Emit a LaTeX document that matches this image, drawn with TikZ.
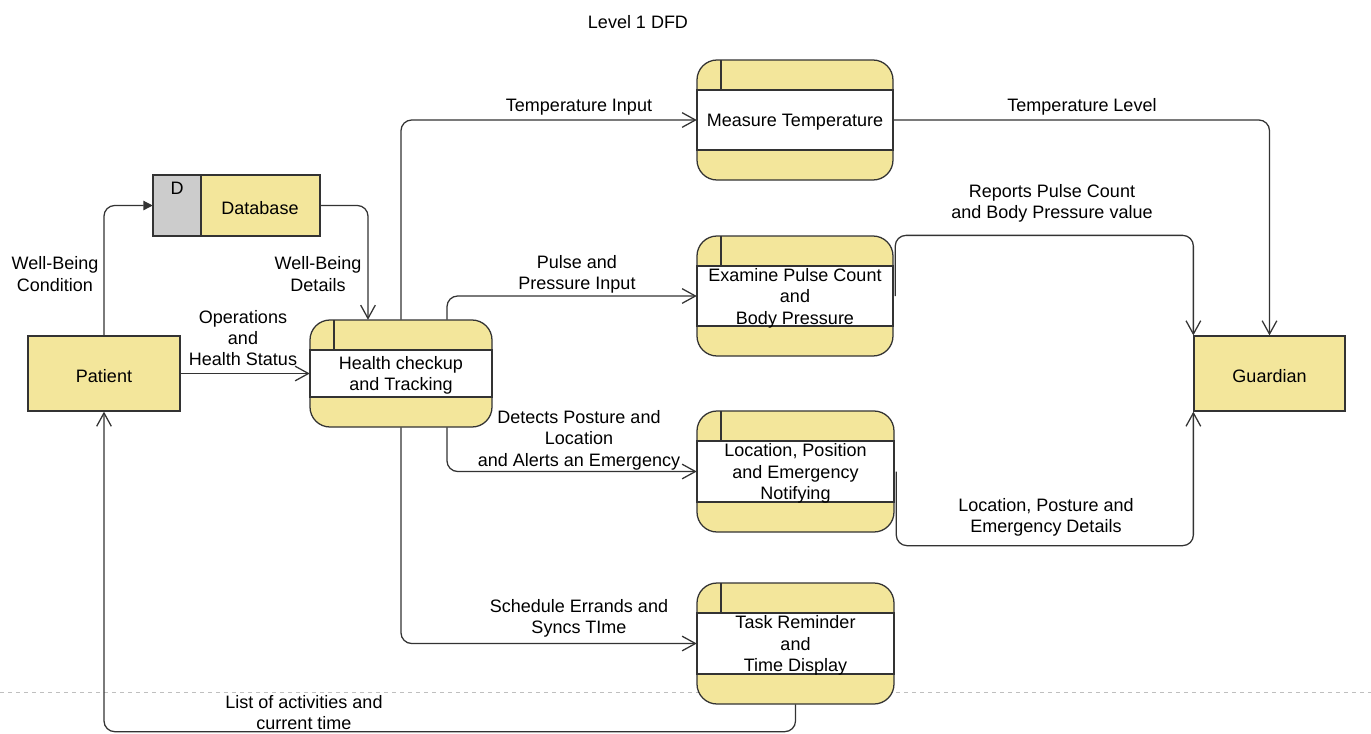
\documentclass[tikz,border=0pt]{standalone}
\usepackage{fontspec}
\setmainfont{Liberation Sans}
\usetikzlibrary{arrows.meta,calc,fit}
\definecolor{procfill}{HTML}{F3E69B}
\definecolor{storegray}{HTML}{CCCCCC}
\definecolor{linec}{HTML}{333333}
\tikzset{
  every node/.style={font=\fontsize{13.5}{16}\selectfont, text=black},
  lbl/.style={align=center, inner sep=0pt, yshift=-1.6pt},
  anchorbox/.style={inner sep=0pt, draw=none},
  edge/.style={draw=linec, line width=0.95pt, rounded corners=8},
  openarr/.style={-{Straight Barb[length=10pt,width=11pt,line width=0.95pt]}},
  fillarr/.style={-{Triangle[length=7pt,width=7pt]}},
  entity/.style={draw=linec, line width=0.95pt, fill=procfill, inner sep=0pt},
}
% process box: name, left, top, right, bottom, text
\newcommand\dfdprocess[6]{%
  \path[draw=linec, line width=0.95pt, fill=procfill, rounded corners=15] (#2,#3) rectangle (#4,#5);
  \path[draw=linec, line width=0.95pt, fill=white] (#2,#3+30) rectangle (#4,#5-30);
  \draw[linec, line width=0.95pt] (#2+24,#3) -- (#2+24,#3+30);
  \coordinate (#1-nw) at (#2,#3);
  \coordinate (#1-se) at (#4,#5);
  \node[anchorbox, fit=(#1-nw)(#1-se)] (#1) {};
  \node[lbl] (#1-text) at (#1.center) {#6};
}
\begin{document}
\begin{tikzpicture}[x=0.75pt,y=-0.75pt]
\useasboundingbox (0,0) rectangle (1371,733);

% page break guide
\draw[black!25, line width=0.6pt, dash pattern=on 3pt off 3pt] (0,692) -- (1371,692);

\node[lbl] (title) at (638,20) {Level 1 DFD};

% external entities
\node[entity, minimum width=114pt, minimum height=56.25pt] (pat) at (104,373.5) {};
\node[lbl] (pat-text) at (pat.center) {Patient};
\node[entity, minimum width=113.25pt, minimum height=56.25pt] (gd) at (1269.5,373.5) {};
\node[lbl] (gd-text) at (gd.center) {Guardian};

% data store
\path[draw=linec, line width=0.95pt, fill=procfill] (153,175) rectangle (320,236);
\path[draw=linec, line width=0.95pt, fill=storegray] (153,175) rectangle (201,236);
\coordinate (db-nw) at (153,175);
\coordinate (db-se) at (320,236);
\node[anchorbox, fit=(db-nw)(db-se)] (db) {};
\node[lbl] (db-id) at (177,186) {D};
\node[lbl] (db-text) at (260,205.5) {Database};

% processes
\dfdprocess{hc}{310}{320}{492}{427}{Health checkup\\and Tracking}
\dfdprocess{mt}{697}{60}{893}{180}{Measure Temperature}
\dfdprocess{ep}{697}{236}{893}{356}{Examine Pulse Count\\and\\Body Pressure}
\dfdprocess{lo}{697}{411}{894}{532}{Location, Position\\and Emergency\\Notifying}
\dfdprocess{tr}{697}{583}{894}{704}{Task Reminder\\and\\Time Display}

% data flows
\draw[edge, fillarr] (pat.north) |- (db.west);
\draw[edge, openarr] (db.east) -| ($(hc.north)+(-33,0)$);
\draw[edge, openarr] (pat.east) -- (hc.west);
\draw[edge, openarr] (hc.north) |- (mt.west);
\draw[edge, openarr] ($(hc.north)+(46,0)$) |- (ep.west);
\draw[edge, openarr] ($(hc.south)+(46,0)$) |- (lo.west);
\draw[edge, openarr] (hc.south) |- (tr.west);
\draw[edge, openarr] (mt.east) -| (gd.north);
\draw[edge, openarr] ($(ep.east)+(2,0)$) |- ($(gd.north west)+(0,-100)$) -- (gd.north west);
\draw[edge, openarr] ($(lo.east)+(2,0)$) |- ($(gd.south west)+(0,134)$) -- (gd.south west);
\draw[edge, openarr] (tr.south) |- ($(pat.south)+(0,320)$) -- (pat.south);

% flow labels
\node[lbl] (l-wbc) at (55,272) {Well-Being\\Condition};
\node[lbl] (l-wbd) at (318,272) {Well-Being\\Details};
\node[lbl] (l-ops) at (243,336) {Operations\\and\\Health Status};
\node[lbl] (l-tin) at (579,105) {Temperature Input};
\node[lbl] (l-pin) at (577,272) {Pulse and\\Pressure Input};
\node[lbl] (l-det) at (579,438) {Detects Posture and\\Location\\and Alerts an Emergency};
\node[lbl] (l-sch) at (579,616) {Schedule Errands and\\Syncs TIme};
\node[lbl] (l-tlv) at (1082,105) {Temperature Level};
\node[lbl] (l-rep) at (1052,201) {Reports Pulse Count\\and Body Pressure value};
\node[lbl] (l-loc) at (1046,515) {Location, Posture and\\Emergency Details};
\node[lbl] (l-act) at (304,710.5) {List of activities and\\current time};
\end{tikzpicture}
\end{document}
